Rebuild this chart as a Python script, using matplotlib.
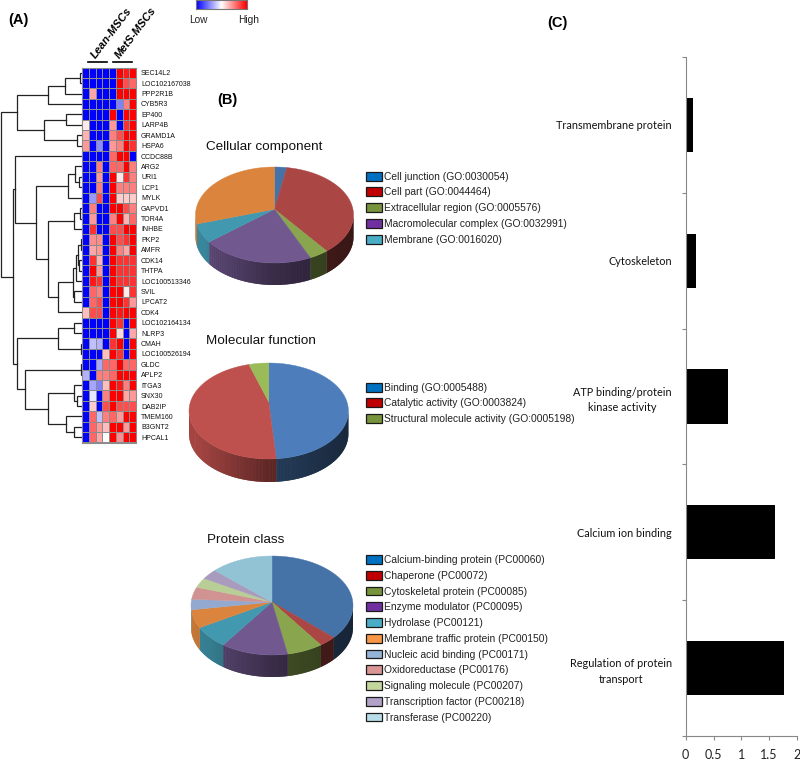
import matplotlib
matplotlib.use("Agg")
import matplotlib.pyplot as plt
import numpy as np
from matplotlib.colors import LinearSegmentedColormap, to_rgb
from matplotlib.patches import Patch

W, H = 800, 760

genes = ["SEC14L2", "LOC102167038", "PPP2R1B", "CYB5R3", "EP400", "LARP4B", "GRAMD1A", "HSPA6",
         "CCDC88B", "ARG2", "URI1", "LCP1", "MYLK", "GAPVD1", "TOR4A", "INHBE", "PKP2", "AMFR",
         "CDK14", "THTPA", "LOC100513346", "SVIL", "LPCAT2", "CDK4", "LOC102164134", "NLRP3",
         "CMAH", "LOC100526194", "GLDC", "APLP2", "ITGA3", "SNX30", "DAB2IP", "TMEM160",
         "B3GNT2", "HPCAL1"]
heat = [
    [-1, -1, -1, -1, -1, 1, .9, 1],
    [-1, -1, -1, -1, -1, 1, .7, .6],
    [-1, .35, -1, -1, -1, 1, 1, 1],
    [-1, -1, -1, -1, -1, -.5, .5, 1],
    [-1, -1, -1, -1, 1, -1, 1, 1],
    [.08, -1, -1, -1, .4, -1, .8, 1],
    [.3, -1, -1, -1, .5, .7, 1, 1],
    [.4, -1, -.45, -1, .4, .5, 1, .8],
    [-1, -1, -1, -1, .6, 1, 1, -1],
    [-1, -1, .5, -1, .6, .6, 1, .5],
    [-1, -1, .4, -1, 1, .1, .8, .5],
    [-1, -1, .5, -1, 1, .5, .5, .5],
    [-1, -.4, .7, -1, 1, .2, .2, .2],
    [-1, .5, -1, -1, 1, 1, .7, .5],
    [-1, .4, -1, -1, .5, 1, .3, .6],
    [-1, .8, -1, -1, .7, .7, 1, 1],
    [-1, .45, .45, -1, 1, .7, .8, 1],
    [-1, .35, .4, -1, 1, .5, .35, 1],
    [-1, .8, .3, -1, 1, .8, .8, .8],
    [-1, 1, .4, -1, 1, .8, .8, .8],
    [-1, .9, .8, -1, 1, .8, .8, .8],
    [-1, .6, .5, -1, 1, 1, .08, .8],
    [-1, .6, .7, -1, 1, 1, .8, .4],
    [.25, .7, .7, -1, 1, .9, 1, 1],
    [-1, -1, -1, -1, 1, .8, -1, 1],
    [-1, -1, -1, -1, 1, .15, -1, .35],
    [-1, -.25, -.3, -1, .8, 1, -1, 1],
    [-1, -1, -1, .25, 1, .8, -1, 1],
    [-1, -1, -.35, .6, .6, 1, .6, .6],
    [-.3, -1, .5, .5, .6, 1, 1, 1],
    [-1, -.35, -.5, .25, 1, .9, .5, 1],
    [-1, -.1, -1, .5, 1, 1, .35, .4],
    [-1, .2, -1, .7, 1, .7, .7, .7],
    [-1, .6, -.25, .5, .6, .4, 1, 1],
    [-1, .6, .4, .25, 1, 1, .4, 1],
    [-1, .6, .35, 0, 1, .45, 1, 1],
]

# dendrogram merges as (height, left, right), leaves are row numbers
tree_top = (17, (48, (65, (80, 0, 1), 2), 3), (44, (66, 4, 5), (77, 6, 7)))
tree_mid = (36, (68, (75, 9, (79, 10, 11)), 12),
            (48, (74, (80, 13, 14), 15),
             (58, (73, (76, (78, (81, 16, 17), (79, 18, 19)), 20), (74, 21, 22)), 23)))
tree_low = (17, (58, (74, 24, 25), (81, 26, 27)),
            (25, (81, 28, 29),
             (48, (74, 30, (77, 31, 32)), (66, 33, (74, 34, 35)))))
tree = (1, tree_top, (12.5, (14.5, 8, tree_mid), tree_low))

cell_labels = ["Cell junction (GO:0030054)", "Cell part (GO:0044464)", "Extracellular region (GO:0005576)",
               "Macromolecular complex (GO:0032991)", "Membrane (GO:0016020)"]
cell_values = [2.5, 36, 4, 23, 6.5, 28]
cell_colors = ["#4572A7", "#AA4643", "#89A54E", "#71588F", "#4198AF", "#DB843D"]

mol_labels = ["Binding (GO:0005488)", "Catalytic activity (GO:0003824)",
              "Structural molecule activity (GO:0005198)"]
mol_values = [48.5, 47.5, 4]
mol_colors = ["#4D7EBB", "#BE504D", "#9BBB59"]

prot_labels = ["Calcium-binding protein (PC00060)", "Chaperone (PC00072)", "Cytoskeletal protein (PC00085)",
               "Enzyme modulator (PC00095)", "Hydrolase (PC00121)", "Membrane traffic protein (PC00150)",
               "Nucleic acid binding (PC00171)", "Oxidoreductase (PC00176)", "Signaling molecule (PC00207)",
               "Transcription factor (PC00218)", "Transferase (PC00220)"]
prot_values = [36.2, 3.5, 7.2, 13.4, 7.3, 6, 3.4, 4, 3.2, 3.3, 12.5]
prot_colors = ["#4572A7", "#AA4643", "#89A54E", "#71588F", "#4198AF", "#DB843D",
               "#93A9CF", "#D19392", "#B9CD96", "#A99BBD", "#92C3D4"]

legend_a = ["#0070C0", "#C00000", "#77933C", "#7030A0", "#4BACC6"]
legend_b = ["#0070C0", "#C00000", "#77933C"]
legend_c = ["#0070C0", "#C00000", "#77933C", "#7030A0", "#4BACC6", "#F79646",
            "#95B3D7", "#D99694", "#C3D69B", "#B3A2C7", "#B7DEE8"]

bar_labels = ["Transmembrane protein", "Cytoskeleton", "ATP binding/protein\nkinase activity",
              "Calcium ion binding", "Regulation of protein\ntransport"]
bar_values = [0.13, 0.19, 0.76, 1.6, 1.76]
bar_ticks = [0, 0.5, 1, 1.5, 2]
bar_tick_labels = ["0", "0.5", "1", "1.5", "2"]

plt.rcParams["font.family"] = ["Liberation Sans", "DejaVu Sans"]
fig = plt.figure(figsize=(W / 100, H / 100), dpi=100)


def px_axes(x0, y0, x1, y1):
    # axes from pixel box, y counted from the top of the image
    return fig.add_axes([x0 / W, 1 - y1 / H, (x1 - x0) / W, (y1 - y0) / H])


def px_text(x, y, s, **kw):
    fig.text(x / W, 1 - y / H, s, **kw)


def draw_tree(ax, node):
    # returns the row position of the node and the height it hangs from
    if not isinstance(node, tuple):
        return node + 0.5, 82
    h, left, right = node
    y1, h1 = draw_tree(ax, left)
    y2, h2 = draw_tree(ax, right)
    ax.plot([h1, h, h, h2], [y1, y1, y2, y2], color="#222222", lw=0.9, solid_joinstyle="miter")
    return (y1 + y2) / 2, h


def pie3d(box, depth, apex, values, colors):
    cx, rx, top, bottom = box
    ry = (bottom - top) / 2
    ax = px_axes(cx - rx, top, cx + rx, bottom + depth)
    ax.set_xlim(-1, 1)
    ax.set_ylim(-1 - depth / ry, 1)
    ax.axis("off")
    d = depth / ry
    edges = np.cumsum([0] + list(values)) / sum(values) * 2 * np.pi
    for a0, a1, c in zip(edges[:-1], edges[1:], colors):
        rgb = np.array(to_rgb(c))
        # side wall, only the front half of the rim shows
        if a1 > np.pi / 2 and a0 < 1.5 * np.pi:
            t = np.linspace(max(a0, np.pi / 2), min(a1, 1.5 * np.pi), 40)
            shade = np.interp(np.sin(t), [-1, 0, 1], [0.92, 0.5, 0.32])
            ax.fill(np.r_[np.sin(t), np.sin(t[::-1])], np.r_[np.cos(t), np.cos(t[::-1]) - d],
                    color=rgb * shade.mean(), lw=0, clip_on=False)
            for t0, t1, f in zip(t[:-1], t[1:], shade):
                xs = [np.sin(t0), np.sin(t1), np.sin(t1), np.sin(t0)]
                ys = [np.cos(t0), np.cos(t1), np.cos(t1) - d, np.cos(t0) - d]
                ax.fill(xs, ys, color=rgb * f, lw=0, clip_on=False)
        t = np.linspace(a0, a1, 60)
        ax.fill(np.r_[0, np.sin(t)], np.r_[apex, np.cos(t)], color=c, lw=0.3, clip_on=False)


def legend_at(x, y, labels, colors):
    handles = [Patch(facecolor=c, edgecolor="#1a1a1a", lw=0.9) for c in colors]
    fig.legend(handles, labels, loc="upper left", bbox_to_anchor=(x / W, 1 - y / H), frameon=False,
               borderpad=0, borderaxespad=0, fontsize=7.4, handlelength=1.55, handleheight=0.95,
               handletextpad=0.17, labelspacing=0.56, labelcolor="#222222")


# (A) heatmap
cmap = LinearSegmentedColormap.from_list("bwr2", ["#0000FF", "#FFFFFF", "#FF0000"])
ax = px_axes(82, 67.5, 136, 442.5)
ax.pcolormesh(np.array(heat), cmap=cmap, vmin=-1, vmax=1, edgecolors="#8c8c8c", linewidth=0.45)
ax.set_ylim(len(genes), 0)
ax.set_xticks([])
ax.yaxis.tick_right()
ax.set_yticks(np.arange(len(genes)) + 0.5)
ax.set_yticklabels(genes, fontsize=5, color="#111111")
ax.tick_params(axis="y", length=0, pad=3.6)
for s in ax.spines.values():
    s.set_color("#8c8c8c")

ax = px_axes(0, 67.5, 82, 442.5)
ax.set_xlim(0, 82)
ax.set_ylim(len(genes), 0)
ax.axis("off")
draw_tree(ax, tree)

# colour key
ax = px_axes(196, 0, 247, 9)
ax.imshow(np.linspace(-1, 1, 100)[None, :], cmap=cmap, aspect="auto", vmin=-1, vmax=1)
ax.set_xticks([])
ax.set_yticks([])
for s in ax.spines.values():
    s.set_color("#777777")
px_text(198, 20, "Low", fontsize=7.3, ha="center", va="center", color="#222222")
px_text(249, 20, "High", fontsize=7.3, ha="center", va="center", color="#222222")

px_text(18.5, 20, "(A)", fontsize=10.5, fontweight="bold", ha="center", va="center")
px_text(227, 100, "(B)", fontsize=10.5, fontweight="bold", ha="center", va="center")
px_text(557, 23, "(C)", fontsize=10.5, fontweight="bold", ha="center", va="center")

px_text(112, 33, "Lean-MSCs", fontsize=8, fontstyle="italic", fontweight="bold", rotation=53,
        ha="center", va="center")
px_text(136, 33, "MetS-MSCs", fontsize=8, fontstyle="italic", fontweight="bold", rotation=53,
        ha="center", va="center")
fig.add_artist(plt.Line2D([88 / W, 107 / W], [1 - 62 / H] * 2, color="black", lw=1.2))
fig.add_artist(plt.Line2D([113 / W, 132 / W], [1 - 62 / H] * 2, color="black", lw=1.2))

# (B) pies
px_text(206, 147, "Cellular component", fontsize=9.7, va="center", color="#111111")
pie3d((274.5, 79, 167, 263), 22, 0.12, cell_values, cell_colors)
legend_at(366, 171.7, cell_labels, legend_a)

px_text(206, 340.7, "Molecular function", fontsize=9.7, va="center", color="#111111")
pie3d((268.7, 79.7, 363, 459), 23, 0.19, mol_values, mol_colors)
legend_at(366, 382.7, mol_labels, legend_b)

px_text(207, 540, "Protein class", fontsize=9.7, va="center", color="#111111")
pie3d((272, 81, 556, 655), 22, 0.07, prot_values, prot_colors)
legend_at(366, 555, prot_labels, legend_c)

# (C) bars
ax = px_axes(685.7, 57, 797, 736)
pos = np.arange(len(bar_values))
ax.barh(pos, bar_values, height=0.4, color="black")
ax.set_xlim(0, 2)
ax.set_ylim(len(bar_values) - 0.5, -0.5)
ax.set_xticks(bar_ticks)
ax.set_xticklabels(bar_tick_labels, fontsize=9, family=["Lato", "DejaVu Sans"], color="#222222")
ax.set_yticks(pos)
ax.set_yticklabels(bar_labels, fontsize=7.8, family=["Lato", "DejaVu Sans"], color="#111111",
                   multialignment="center", linespacing=1.55)
ax.set_yticks(np.arange(len(bar_values) + 1) - 0.5, minor=True)
ax.tick_params(axis="y", which="major", length=0, pad=10)
ax.tick_params(axis="y", which="minor", length=3, color="#888888", width=0.8)
ax.tick_params(axis="x", length=3, color="#888888", width=0.8, pad=6.5)
for s in ["top", "right"]:
    ax.spines[s].set_visible(False)
for s in ["left", "bottom"]:
    ax.spines[s].set_color("#888888")

fig.savefig("out.png", dpi=100)
